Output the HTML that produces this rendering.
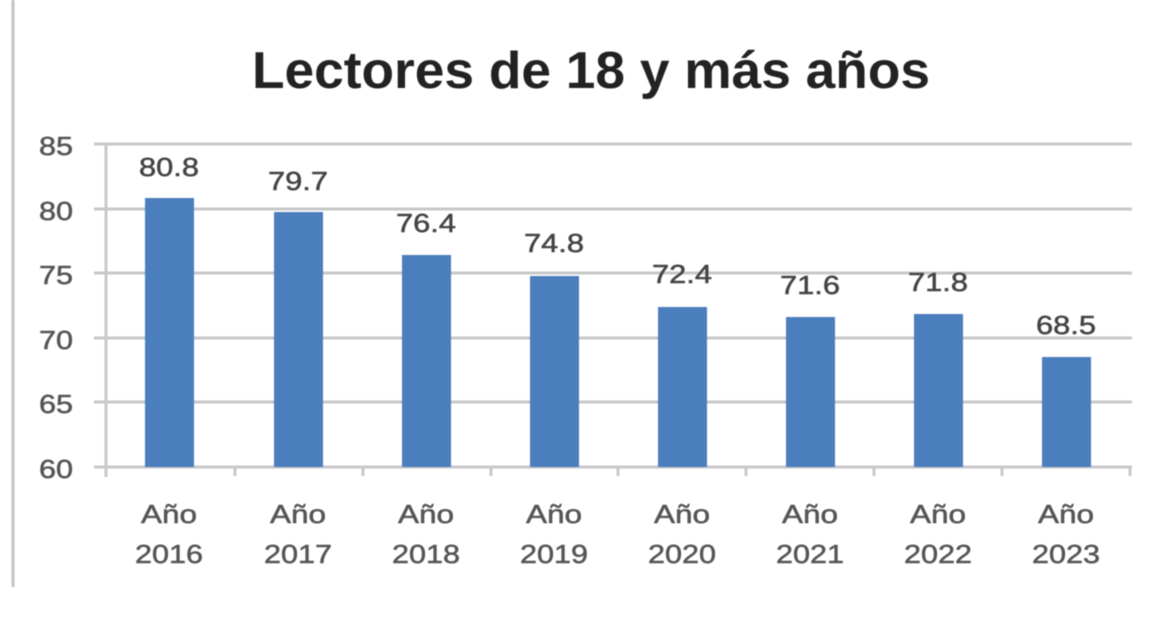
<!DOCTYPE html>
<html><head><meta charset="utf-8"><style>
html,body{margin:0;padding:0;background:#fff;}
svg{display:block;filter:blur(0.6px);}
text{font-family:"Liberation Sans",sans-serif;}
</style></head><body>
<svg width="1162" height="620" viewBox="0 0 1162 620" xmlns="http://www.w3.org/2000/svg">
<rect width="1162" height="620" fill="#fff"/>
<line x1="13" y1="0" x2="13" y2="587" stroke="#c4c4c4" stroke-width="3"/>
<text x="252" y="88" font-size="52" font-weight="bold" fill="#222" textLength="678" lengthAdjust="spacingAndGlyphs">Lectores de 18 y más años</text>
<g stroke="#c8c8c8" stroke-width="3">
<line x1="94" y1="144" x2="1132" y2="144"/>
<line x1="94" y1="209" x2="1132" y2="209"/>
<line x1="94" y1="273" x2="1132" y2="273"/>
<line x1="94" y1="338" x2="1132" y2="338"/>
<line x1="94" y1="402" x2="1132" y2="402"/>
<line x1="94" y1="467" x2="1132" y2="467"/>
<line x1="106" y1="144" x2="106" y2="477"/>
<line x1="235" y1="467" x2="235" y2="476"/>
<line x1="363" y1="467" x2="363" y2="476"/>
<line x1="491" y1="467" x2="491" y2="476"/>
<line x1="618" y1="467" x2="618" y2="476"/>
<line x1="746" y1="467" x2="746" y2="476"/>
<line x1="874" y1="467" x2="874" y2="476"/>
<line x1="1002" y1="467" x2="1002" y2="476"/>
<line x1="1130" y1="467" x2="1130" y2="476"/>
</g>
<g font-size="26" fill="#555" stroke="#555" stroke-width="0.5" text-anchor="end">
<text x="73" y="155" textLength="34" lengthAdjust="spacingAndGlyphs">85</text>
<text x="73" y="220" textLength="34" lengthAdjust="spacingAndGlyphs">80</text>
<text x="73" y="284" textLength="34" lengthAdjust="spacingAndGlyphs">75</text>
<text x="73" y="349" textLength="34" lengthAdjust="spacingAndGlyphs">70</text>
<text x="73" y="413" textLength="34" lengthAdjust="spacingAndGlyphs">65</text>
<text x="73" y="478" textLength="34" lengthAdjust="spacingAndGlyphs">60</text>
</g>
<g fill="#4a7ebd">
<rect x="145" y="198" width="49" height="269"/>
<rect x="274" y="212" width="49" height="255"/>
<rect x="402" y="255" width="49" height="212"/>
<rect x="530" y="276" width="49" height="191"/>
<rect x="658" y="307" width="49" height="160"/>
<rect x="786" y="317" width="49" height="150"/>
<rect x="914" y="314" width="49" height="153"/>
<rect x="1042" y="357" width="49" height="110"/>
</g>
<g font-size="26" fill="#444" stroke="#444" stroke-width="0.5" text-anchor="middle">
<text x="169" y="176" textLength="60" lengthAdjust="spacingAndGlyphs">80.8</text>
<text x="298" y="190" textLength="60" lengthAdjust="spacingAndGlyphs">79.7</text>
<text x="426" y="232" textLength="60" lengthAdjust="spacingAndGlyphs">76.4</text>
<text x="554" y="252" textLength="60" lengthAdjust="spacingAndGlyphs">74.8</text>
<text x="682" y="283" textLength="60" lengthAdjust="spacingAndGlyphs">72.4</text>
<text x="810" y="294" textLength="60" lengthAdjust="spacingAndGlyphs">71.6</text>
<text x="938" y="291" textLength="60" lengthAdjust="spacingAndGlyphs">71.8</text>
<text x="1066" y="334" textLength="60" lengthAdjust="spacingAndGlyphs">68.5</text>
</g>
<g font-size="26" fill="#555" stroke="#555" stroke-width="0.5" text-anchor="middle">
<text x="169" y="523" textLength="56" lengthAdjust="spacingAndGlyphs">Año</text><text x="169" y="563" textLength="68" lengthAdjust="spacingAndGlyphs">2016</text>
<text x="298" y="523" textLength="56" lengthAdjust="spacingAndGlyphs">Año</text><text x="298" y="563" textLength="68" lengthAdjust="spacingAndGlyphs">2017</text>
<text x="426" y="523" textLength="56" lengthAdjust="spacingAndGlyphs">Año</text><text x="426" y="563" textLength="68" lengthAdjust="spacingAndGlyphs">2018</text>
<text x="554" y="523" textLength="56" lengthAdjust="spacingAndGlyphs">Año</text><text x="554" y="563" textLength="68" lengthAdjust="spacingAndGlyphs">2019</text>
<text x="682" y="523" textLength="56" lengthAdjust="spacingAndGlyphs">Año</text><text x="682" y="563" textLength="68" lengthAdjust="spacingAndGlyphs">2020</text>
<text x="810" y="523" textLength="56" lengthAdjust="spacingAndGlyphs">Año</text><text x="810" y="563" textLength="68" lengthAdjust="spacingAndGlyphs">2021</text>
<text x="938" y="523" textLength="56" lengthAdjust="spacingAndGlyphs">Año</text><text x="938" y="563" textLength="68" lengthAdjust="spacingAndGlyphs">2022</text>
<text x="1066" y="523" textLength="56" lengthAdjust="spacingAndGlyphs">Año</text><text x="1066" y="563" textLength="68" lengthAdjust="spacingAndGlyphs">2023</text>
</g>
</svg>
</body></html>
